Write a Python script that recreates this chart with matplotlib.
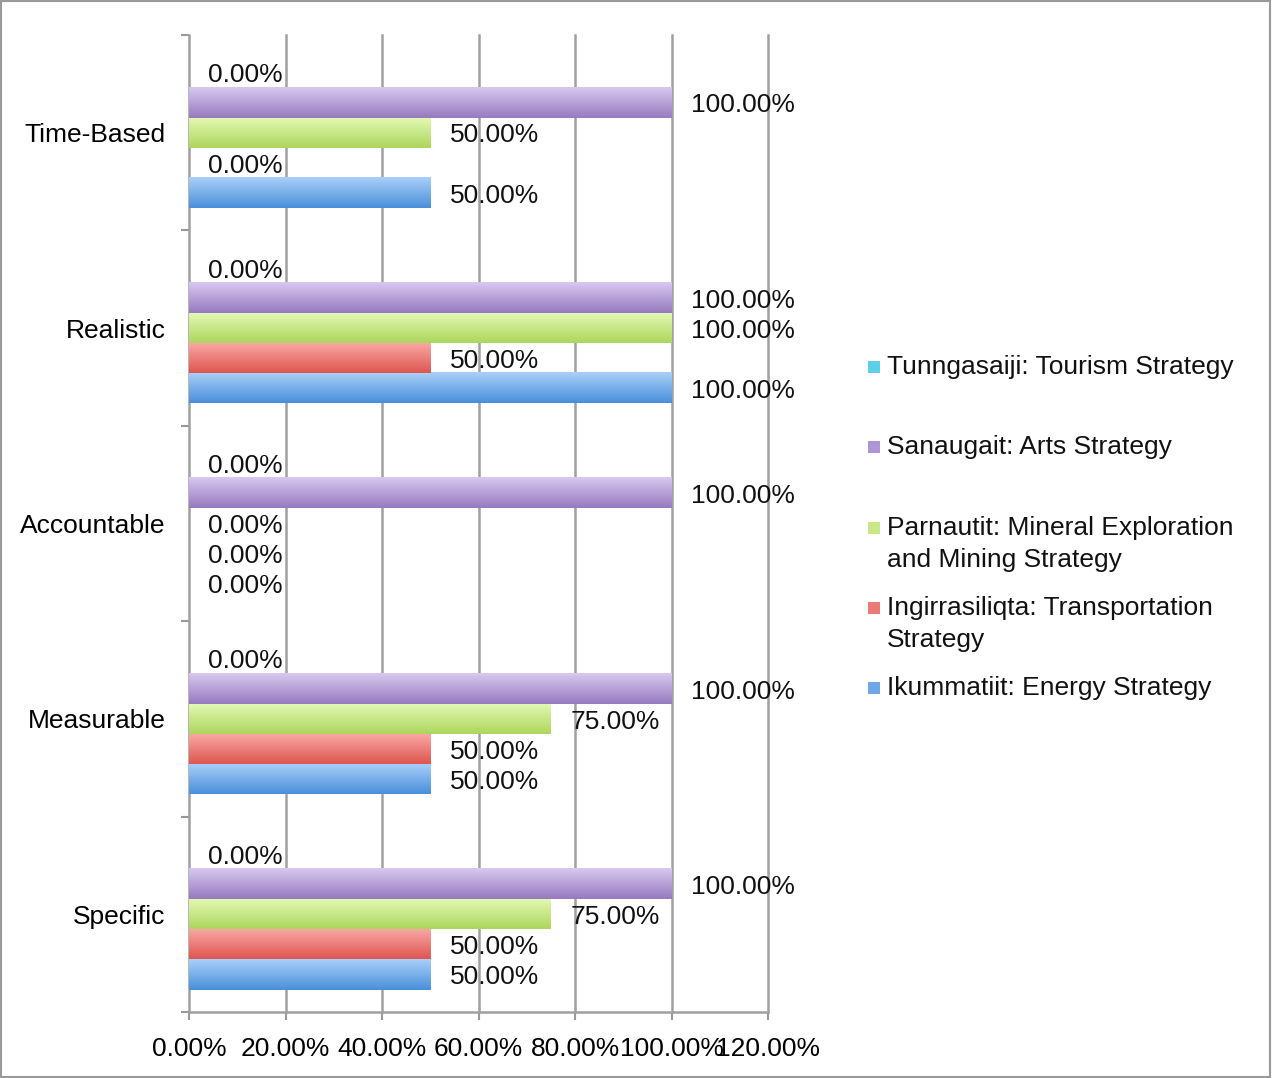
import matplotlib
matplotlib.use("Agg")
import matplotlib.pyplot as plt
import numpy as np
from matplotlib.colors import LinearSegmentedColormap
from matplotlib.patches import Rectangle

plt.rcParams['font.family'] = ['Liberation Sans', 'DejaVu Sans']

categories = ["Specific", "Measurable", "Accountable", "Realistic", "Time-Based"]
series_names = [
    "Ikummatiit: Energy Strategy",
    "Ingirrasiliqta: Transportation\nStrategy",
    "Parnautit: Mineral Exploration\nand Mining Strategy",
    "Sanaugait: Arts Strategy",
    "Tunngasaiji: Tourism Strategy",
]
ikummatiit = [50, 50, 0, 100, 50]
ingirrasiliqta = [50, 50, 0, 50, 0]
parnautit = [75, 75, 0, 100, 50]
sanaugait = [100, 100, 100, 100, 100]
tunngasaiji = [0, 0, 0, 0, 0]
values = [ikummatiit, ingirrasiliqta, parnautit, sanaugait, tunngasaiji]
xticks = [0, 20, 40, 60, 80, 100, 120]

# gradient colors (top light, bottom dark)
grad = [
    ("#A9D0FA", "#4A8FD9"),
    ("#FAAAA7", "#DE5650"),
    ("#E4F9B5", "#ADD65D"),
    ("#D8C8F0", "#977ABF"),
    ("#A8EAF5", "#3CC0DC"),
]
legend_colors = ["#6FA8E8", "#EC7B77", "#C8E88A", "#AE95D3", "#5CD0E8"]

FS = 19

fig = plt.figure(figsize=(12.72, 10.78), dpi=100)
ax = fig.add_axes([189/1272, 1 - 1012/1078, (768-189)/1272, (1012-35)/1078])

n = len(values)
bh = 0.154
y0 = np.arange(len(categories))
offsets = (np.arange(n) - (n - 1) / 2) * bh

for i, (vals, (ctop, cbot)) in enumerate(zip(values, grad)):
    ys = y0 + offsets[i]
    bars = ax.barh(ys, vals, height=bh, color=cbot, zorder=2)
    cmap = LinearSegmentedColormap.from_list("g%d" % i, [cbot, ctop])
    for b, v, yy in zip(bars, vals, ys):
        if v > 0:
            x_0 = b.get_x(); w = b.get_width(); yb = b.get_y(); h = b.get_height()
            ax.imshow(np.linspace(0, 1, 64).reshape(-1, 1), cmap=cmap, origin='lower',
                      extent=[x_0, x_0 + w, yb, yb + h], aspect='auto',
                      interpolation='bicubic', zorder=3)
        ax.annotate(f"{v:.2f}%", xy=(v, yy), xytext=(14, -2), textcoords='offset points',
                    ha='left', va='center', fontsize=FS, color='#111111', zorder=5)

ax.set_xlim(0, 120)
ax.set_ylim(-0.5, len(categories) - 0.5)
ax.set_xticks(xticks)
ax.set_xticklabels([f"{t:.2f}%" for t in xticks], fontsize=FS)
ax.set_yticks(np.arange(-0.5, len(categories), 1.0))
ax.set_yticklabels([])
ax.set_yticks(y0, minor=True)
ax.set_yticklabels(categories, minor=True, fontsize=FS)
ax.tick_params(axis='y', which='major', length=6, width=1.5, color='#999999', direction='out')
ax.tick_params(axis='y', which='minor', length=0, pad=17)
ax.tick_params(axis='x', which='major', length=6, width=1.5, color='#999999', direction='out', pad=12)

for t in xticks[1:]:
    ax.axvline(t, color='#A0A0A0', linewidth=1.8, zorder=0, clip_on=False)
for s in ['top', 'right']:
    ax.spines[s].set_visible(False)
for s in ['left', 'bottom']:
    ax.spines[s].set_color('#A0A0A0')
    ax.spines[s].set_linewidth(1.8)

# legend (manual, top to bottom: reverse order)
leg_y = [367, 447, 528, 608, 688]
for k, idx in enumerate(reversed(range(n))):
    yc = 1 - leg_y[k] / 1078
    fig.patches.append(Rectangle((868/1272, yc - 6/1078), 12/1272, 12/1078,
                                 transform=fig.transFigure, facecolor=legend_colors[idx],
                                 edgecolor='none'))
    fig.text(887/1272, yc + 12/1078, series_names[idx], ha='left', va='top',
             fontsize=FS, color='#111111', linespacing=1.4)

fig.patches.append(Rectangle((1/1272, 1/1078), 1 - 3/1272, 1 - 2/1078, transform=fig.transFigure,
                             facecolor='none', edgecolor='#9A9A9A', linewidth=1.5))

fig.savefig("out.png", dpi=100)
